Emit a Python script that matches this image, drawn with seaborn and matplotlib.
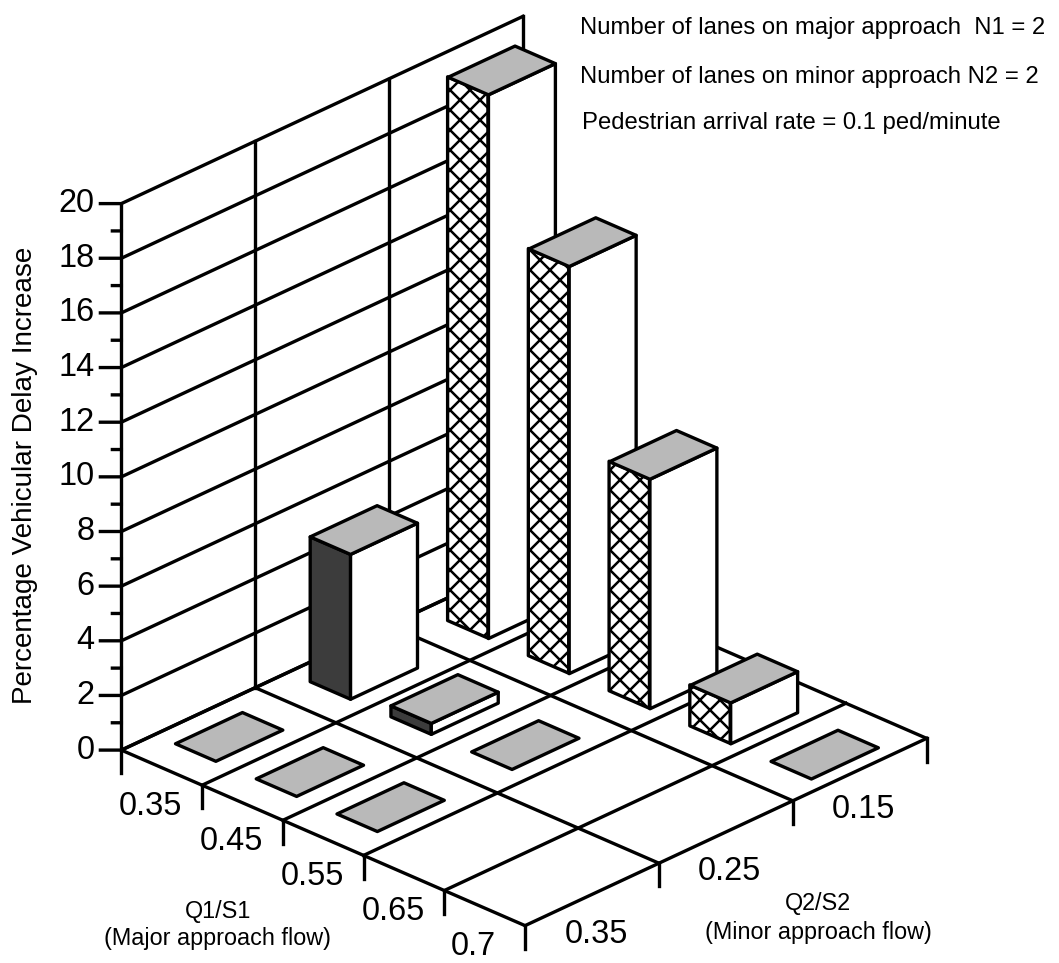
import numpy as np
import matplotlib
matplotlib.use("Agg")
import matplotlib.pyplot as plt
import seaborn as sns
from mpl_toolkits.mplot3d import proj3d
from mpl_toolkits.mplot3d.art3d import Poly3DCollection

q1_labels = ["0.35", "0.45", "0.55", "0.65", "0.7"]
q2_labels = ["0.35", "0.25", "0.15"]
delay_q2_035 = [0, 0, 0, None, None]
delay_q2_025 = [5.3, 0.4, 0, None, None]
delay_q2_015 = [19.9, 14.9, 8.4, 1.5, 0]
delays = [delay_q2_035, delay_q2_025, delay_q2_015]
z_ticks = list(range(0, 21, 2))
z_minor = list(range(1, 20, 2))
notes = ["Number of lanes on major approach  N1 = 2",
         "Number of lanes on minor approach N2 = 2",
         "Pedestrian arrival rate = 0.1 ped/minute"]

W, H, DPI = 1059, 963, 120
TOP_GREY = "#b9b9b9"
DARK_GREY = "#3c3c3c"
LW = 2.0
# horizontal screen shift of one pixel, in x and y data units
PX = (0.0064, 0.0036)
Z_PX = 1 / 27.4
# where the bars sit inside their cell, per Q2 row
ROW_INSET = [0.25, 0.26, 0.31]


def shifted(x, y, z, dx, dy):
    return x + dx * PX[0], y + dx * PX[1], z - dy * Z_PX


def line(ax, xs, ys, zs, lw=LW):
    ax.plot(xs, ys, zs, color="black", lw=lw, zorder=1, solid_capstyle="projecting")


def label(ax, x, y, z, text, ha="center"):
    px, py, _ = proj3d.proj_transform(x, y, z, ax.get_proj())
    ax.text2D(px, py, text, transform=ax.transData, fontsize=19.5, color="black",
              ha=ha, va="center", zorder=60)


def box(ax, x, y, h, side_color, side_hatch, order):
    x0, x1 = x + ROW_INSET[y], x + ROW_INSET[y] + 0.5
    y0, y1 = y + 0.25, y + 0.75
    faces = []
    if h > 0:
        faces.append(([(x0, y0, 0), (x1, y0, 0), (x1, y0, h), (x0, y0, h)], side_color, side_hatch))
        faces.append(([(x1, y0, 0), (x1, y1, 0), (x1, y1, h), (x1, y0, h)], "white", None))
    faces.append(([(x0, y0, h), (x1, y0, h), (x1, y1, h), (x0, y1, h)], TOP_GREY, None))
    for verts, color, hatch in faces:
        poly = Poly3DCollection([verts], facecolor=color, edgecolor="black", linewidth=LW, hatch=hatch)
        poly.set_zorder(order)
        ax.add_collection3d(poly)


def main():
    sns.set_theme(style="white", rc={"hatch.linewidth": 1.5})
    plt.rcParams["font.family"] = ["Liberation Sans", "DejaVu Sans"]

    fig = plt.figure(figsize=(W / DPI, H / DPI), dpi=DPI)
    ax = fig.add_axes([29.5 / W, -2.5 / H, 963 / W, 1], projection="3d", computed_zorder=False, proj_type="ortho")
    ax.view_init(elev=26.76, azim=-46)
    ax.set_box_aspect((563, 580, 614), zoom=1.02)
    ax.set_axis_off()
    ax.set_xlim(0, 5)
    ax.set_ylim(0, 3)
    ax.set_zlim(0, 20)

    # back wall
    for z in z_ticks:
        line(ax, [0, 0], [0, 3], [z, z])
    for j in range(1, 4):
        line(ax, [0, 0], [j, j], [0, 20])
    line(ax, [0, 0], [0, 0], [-0.85, 20])
    for z in z_ticks:
        x, y, zz = shifted(0, 0, z, -21, 0)
        line(ax, [x, 0], [y, 0], [zz, z])
        x, y, zz = shifted(0, 0, z, -27, 0)
        label(ax, x, y, zz, str(z), ha="right")
    for z in z_minor:
        x, y, zz = shifted(0, 0, z, -9, 0)
        line(ax, [x, 0], [y, 0], [zz, z])

    # floor grid and ticks
    for i in range(6):
        line(ax, [i, i], [0, 3], [0, 0])
    for j in range(4):
        line(ax, [0, 5], [j, j], [0, 0])
    for i in range(1, 6):
        line(ax, [i, i], [0, 0], [0, -0.85])
    for j in range(1, 4):
        line(ax, [5, 5], [j, j], [0, -0.85])

    for i, text in enumerate(q1_labels):
        x, y, z = shifted(i + 0.5, 0, 0, -11, 39)
        label(ax, x, y, z, text)
    for j, text in enumerate(q2_labels):
        x, y, z = shifted(5, j + 0.5, 0, 4, 40)
        label(ax, x, y, z, text)

    # bars, back to front
    styles = [(TOP_GREY, None), (DARK_GREY, None), ("white", "xx")]
    cells = [(i, j) for j in range(3) for i in range(5) if delays[j][i] is not None]
    cells.sort(key=lambda c: c[0] - c[1])
    for n, (i, j) in enumerate(cells):
        box(ax, i, j, delays[j][i], styles[j][0], styles[j][1], 10 + n)

    fig.text(25 / W, 1 - 475 / H, "Percentage Vehicular Delay Increase", rotation=90,
             fontsize=16.7, color="black", ha="center", va="center")
    fig.text(218 / W, 1 - 925 / H, "Q1/S1\n(Major approach flow)", fontsize=14, color="black",
             ha="center", va="center", linespacing=1.25)
    fig.text(818 / W, 1 - 918 / H, "Q2/S2\n(Minor approach flow)", fontsize=14, color="black",
             ha="center", va="center", linespacing=1.3)
    for text, x, y in zip(notes, [580, 580, 582], [28, 77, 123]):
        fig.text(x / W, 1 - y / H, text, fontsize=14.3, color="black", ha="left", va="center")

    fig.savefig("out.png", dpi=DPI)
    plt.close(fig)


if __name__ == "__main__":
    main()
